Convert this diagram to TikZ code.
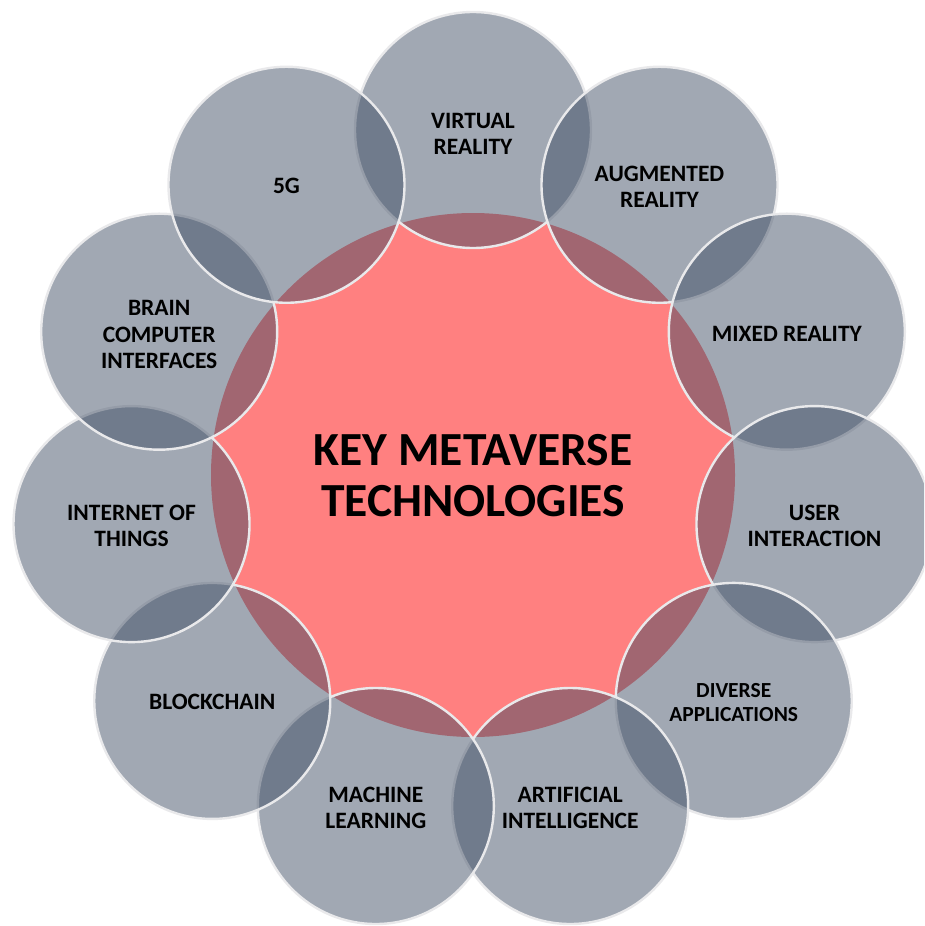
\documentclass[tikz,border=0pt]{standalone}
\usepackage{fontspec}
\setmainfont{Carlito}
\usetikzlibrary{calc}
\definecolor{outerfill}{RGB}{59,74,97}
\definecolor{centerfill}{RGB}{255,128,128}
\definecolor{rimcol}{RGB}{233,233,235}
\tikzset{
  outercircle/.style={circle, fill=outerfill, fill opacity=0.48, draw=rimcol, draw opacity=1, line width=2.4pt, minimum size=236pt, inner sep=0pt},
  centercircle/.style={circle, fill=centerfill, minimum size=524pt, inner sep=0pt},
  lbl/.style={align=center, font=\fontsize{23.5}{26.5}\selectfont\bfseries, text=black},
  biglbl/.style={align=center, font=\fontsize{47.5}{51}\selectfont\bfseries, text=black}
}
\begin{document}
\begin{tikzpicture}[x=1pt,y=-1pt]
\useasboundingbox (0,0) rectangle (924,926);
\clip (0,0) rectangle (924,926);
\coordinate (c) at (473,475);
\node[centercircle] (hub) at (c) {};
\foreach \i/\nm in {0/vr,1/ar,2/mr,3/ui,4/da,5/ai,6/ml,7/bc,8/iot,9/bci,10/fg}{
  \pgfmathsetmacro{\ang}{-90+\i*360/11}
  \node[outercircle] (\nm) at ($(c)+(\ang:345)$) {};
}
\node[biglbl] (hubtxt) at ([yshift=-0.5pt]hub.center) {KEY METAVERSE\\TECHNOLOGIES};
\node[lbl] at ([yshift=-4pt]vr.center) {VIRTUAL\\REALITY};
\node[lbl] at ([yshift=-2pt]ar.center) {AUGMENTED\\REALITY};
\node[lbl] at ([yshift=-2pt]mr.center) {MIXED REALITY};
\node[lbl] at ([yshift=-2pt]ui.center) {USER\\INTERACTION};
\node[lbl, font=\fontsize{21.5}{24}\selectfont\bfseries] at ([yshift=-2pt]da.center) {DIVERSE\\APPLICATIONS};
\node[lbl] at ([yshift=-2pt]ai.center) {ARTIFICIAL\\INTELLIGENCE};
\node[lbl] at ([yshift=-2pt]ml.center) {MACHINE\\LEARNING};
\node[lbl] at ([yshift=-1pt]bc.center) {BLOCKCHAIN};
\node[lbl] at ([yshift=-2pt]iot.center) {INTERNET OF\\THINGS};
\node[lbl] at ([yshift=-3pt]bci.center) {BRAIN\\COMPUTER\\INTERFACES};
\node[lbl] at ([yshift=-1pt]fg.center) {5G};
\end{tikzpicture}
\end{document}
